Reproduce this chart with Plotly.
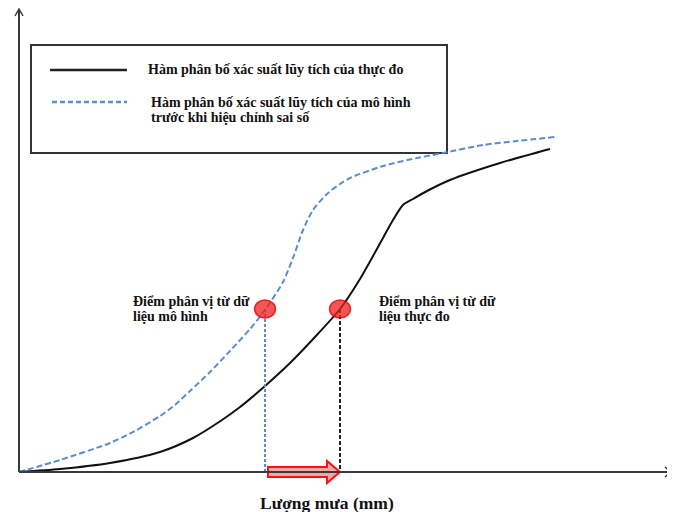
import plotly.graph_objects as go

# Observed CDF (rainfall units, cumulative-probability units)
rain_obs = [0, 41, 91, 141, 174, 203, 221, 246, 271, 296, 321, 341, 364, 374, 384, 394, 408, 431, 481, 531]
cdf_obs = [0, 3, 9, 20, 34, 52, 65, 86, 109, 135, 163, 193, 234, 252, 267, 273, 281, 292, 309, 323]

# Model CDF before bias correction
rain_mod = [0, 41, 91, 116, 141, 156, 171, 191, 211, 231, 246, 264, 274, 284, 294, 308, 321, 331, 364, 398, 424, 464, 498, 536]
cdf_mod = [0, 12, 29, 41, 56, 67, 81, 100, 121, 143, 162, 190, 214, 242, 262, 278, 288, 294, 306, 314, 319, 327, 331, 335]

# Quantile points
quantile_p = [163, 163]
quantile_x = [246, 321]

legend_obs = "Hàm phân bố xác suất lũy tích của thực đo"
legend_mod_1 = "Hàm phân bố xác suất lũy tích của mô hình"
legend_mod_2 = "trước khi hiệu chỉnh sai số"
label_mod = ["Điểm phân vị từ dữ", "liệu mô hình"]
label_obs = ["Điểm phân vị từ dữ", "liệu thực đo"]
x_title = "Lượng mưa (mm)"

BLUE = "#5a8ccf"
AX = "#3a3a3a"
FONT = "Liberation Serif"

fig = go.Figure()

fig.add_trace(go.Scatter(x=rain_mod, y=cdf_mod, mode="lines",
                         line=dict(color=BLUE, width=2, dash="6px,3px", shape="spline", smoothing=0.7), hoverinfo="skip"))
fig.add_trace(go.Scatter(x=rain_obs, y=cdf_obs, mode="lines",
                         line=dict(color="#111111", width=2, shape="spline", smoothing=0.7), hoverinfo="skip"))

# vertical drop lines
fig.add_trace(go.Scatter(x=[quantile_x[0], quantile_x[0]], y=[quantile_p[0], 0], mode="lines",
                         line=dict(color=BLUE, width=2, dash="3px,2px"), hoverinfo="skip"))
fig.add_trace(go.Scatter(x=[quantile_x[1], quantile_x[1]], y=[quantile_p[1], 0], mode="lines",
                         line=dict(color="#222222", width=2, dash="4px,2px"), hoverinfo="skip"))

shapes = []
# quantile circles (slightly elliptical)
for qx, qp in zip(quantile_x, quantile_p):
    shapes.append(dict(type="circle", xref="x", yref="y", x0=qx - 10.5, x1=qx + 10.5, y0=qp - 9, y1=qp + 9,
                       fillcolor="rgba(240,30,30,0.75)", line=dict(color="rgba(230,0,0,0.8)", width=1.5), layer="above"))

# block arrow between quantiles
xa0 = quantile_x[0] + 3
xa1 = quantile_x[1]
xh = xa1 - 13
path = f"M {xa0},-5 L {xh},-5 L {xh},-11 L {xa1},0 L {xh},11 L {xh},5 L {xa0},5 Z"
shapes.append(dict(type="path", xref="x", yref="y", path=path, fillcolor="rgba(230,110,110,0.6)",
                   line=dict(color="#ff1010", width=2), layer="above"))

# axes with open arrowheads
shapes.append(dict(type="line", xref="x", yref="y", x0=0, y0=0, x1=0, y1=463, line=dict(color=AX, width=2)))
shapes.append(dict(type="path", xref="x", yref="y", path="M -4,456 L 0,463 L 4,456", line=dict(color=AX, width=1.5)))
shapes.append(dict(type="line", xref="x", yref="y", x0=0, y0=0, x1=652, y1=0, line=dict(color=AX, width=2)))
shapes.append(dict(type="path", xref="x", yref="y", path="M 646,5 L 652,0 L 646,-5", line=dict(color=AX, width=1.5)))

# legend box
shapes.append(dict(type="rect", xref="x", yref="y", x0=12, x1=428, y0=319, y1=427,
                   line=dict(color="#333333", width=2), fillcolor="white", layer="below"))
shapes.append(dict(type="line", xref="x", yref="y", x0=31, x1=108, y0=402, y1=402, line=dict(color="#222222", width=2.5)))
shapes.append(dict(type="line", xref="x", yref="y", x0=33, x1=108, y0=370, y1=370,
                   line=dict(color=BLUE, width=2.5, dash="5px,3px")))

ann = []
def txt(x, y, s, size=14, anchor="left"):
    ann.append(dict(x=x, y=y, xref="x", yref="y", text="<b>" + s + "</b>", showarrow=False, xanchor=anchor,
                    yanchor="middle", font=dict(family=FONT, size=size, color="#111111")))

txt(127, 403, legend_obs)
txt(130, 370, legend_mod_1)
txt(130, 355, legend_mod_2)
txt(112, 171, label_mod[0])
txt(112, 156, label_mod[1])
txt(358, 171, label_obs[0])
txt(358, 156, label_obs[1])
txt(308, -31, x_title, size=17.5, anchor="center")

# the page places the figure 8px from the top-left corner
fig.update_layout(
    width=667, height=504,
    margin=dict(l=0, r=0, t=0, b=0),
    paper_bgcolor="white", plot_bgcolor="white",
    showlegend=False,
    xaxis=dict(range=[-11, 656], visible=False, fixedrange=True),
    yaxis=dict(range=[-40, 464], visible=False, fixedrange=True),
    shapes=shapes, annotations=ann,
)

fig.write_html("out.html")
